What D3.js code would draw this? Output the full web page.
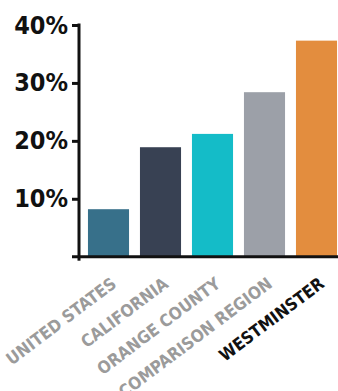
<!DOCTYPE html>
<html>
<head>
<meta charset="utf-8">
<script src="https://cdn.jsdelivr.net/npm/d3@7"></script>
<style>
	html, body { margin: 0; padding: 0; background: #fff; }
	svg { display: block; }
	.y.axis text { font-family: 'DejaVu Sans Condensed', 'DejaVu Sans', sans-serif; font-weight: bold; font-size: 25px; fill: #111; }
	.x-label { font-family: 'DejaVu Sans Condensed', 'DejaVu Sans', sans-serif; font-weight: bold; font-size: 17px; }
</style>
</head>
<body>
<div id="chart"></div>
<script>
'use strict';

// categories and values (percent)
var regions = ['UNITED STATES', 'CALIFORNIA', 'ORANGE COUNTY', 'COMPARISON REGION', 'WESTMINSTER'];
var shares = [8.2, 18.9, 21.2, 28.4, 37.3];
var barColors = ['#37708a', '#384153', '#14bcc8', '#9ca0a8', '#e38d3e'];
var labelColors = ['#9b9b9b', '#9b9b9b', '#9b9b9b', '#9b9b9b', '#111111'];
var yTicks = [10, 20, 30, 40];

var width = 338,
	height = 391;

var svg = d3.select('#chart').append('svg')
	.attr('width', width)
	.attr('height', height);

var x = d3.scaleBand()
	.domain(regions)
	.range([82.5, 342.5])
	.paddingInner(0.21)
	.paddingOuter(0.105);

var y = d3.scaleLinear()
	.domain([0, 40])
	.range([256.7, 25]);

// bars
svg.append('g')
	.selectAll('rect')
	.data(regions)
	.enter().append('rect')
	.attr('x', function (d) { return x(d); })
	.attr('y', function (d, i) { return y(shares[i]); })
	.attr('width', x.bandwidth())
	.attr('height', function (d, i) { return y(0) - y(shares[i]); })
	.attr('fill', function (d, i) { return barColors[i]; });

// y axis
var yAxis = d3.axisLeft(y)
	.tickValues(yTicks)
	.tickSize(7)
	.tickPadding(4)
	.tickFormat(function (d) { return d + '%'; });

var axisY = svg.append('g')
	.attr('class', 'y axis')
	.attr('transform', 'translate(79,0)')
	.call(yAxis);

axisY.select('.domain').remove();
axisY.selectAll('line').attr('stroke', '#111').attr('stroke-width', 3);

// vertical axis line
svg.append('line')
	.attr('x1', 79).attr('x2', 79)
	.attr('y1', y(40) - 1.5).attr('y2', y(0) + 4)
	.attr('stroke', '#111').attr('stroke-width', 3);

// baseline
svg.append('line')
	.attr('x1', 72).attr('x2', width)
	.attr('y1', y(0)).attr('y2', y(0))
	.attr('stroke', '#111').attr('stroke-width', 3);

// rotated category labels
svg.append('g')
	.selectAll('text')
	.data(regions)
	.enter().append('text')
	.attr('class', 'x-label')
	.attr('text-anchor', 'end')
	.attr('fill', function (d, i) { return labelColors[i]; })
	.attr('transform', function (d) {
		return 'translate(' + (x(d) + x.bandwidth() / 2 + 9) + ',' + 286 + ') rotate(-37)';
	})
	.text(function (d) { return d; });
</script>
</body>
</html>
